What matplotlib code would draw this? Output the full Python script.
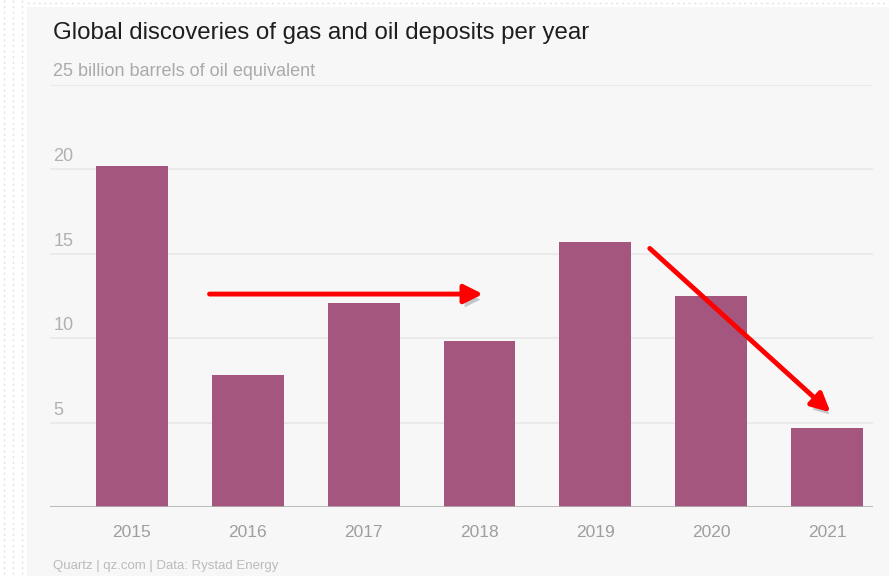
import matplotlib
matplotlib.use("Agg")
import matplotlib.pyplot as plt
import matplotlib.patheffects as pe
from matplotlib.patches import Rectangle

plt.rcParams['font.family'] = ['Liberation Sans', 'DejaVu Sans']

# data
years = ['2015', '2016', '2017', '2018', '2019', '2020', '2021']
discoveries = [20.2, 7.8, 12.1, 9.8, 15.7, 12.5, 4.7]
y_ticks = [5, 10, 15, 20]

# red arrows drawn on top (data coords: start, end)
arrow_flat = ((0.67, 12.6), (3.03, 12.6))
arrow_down = ((4.47, 15.3), (6.03, 5.6))

bar_color = '#a5567f'
grid_color = '#e8e8e8'

fig = plt.figure(figsize=(8.89, 5.76), dpi=100)
fig.patch.set_facecolor('white')

# light grey panel behind everything, with faint dotted page edge
bg = fig.add_axes([0, 0, 1, 1], zorder=-1)
bg.set_axis_off()
bg.set_xlim(0, 889)
bg.set_ylim(576, 0)
bg.add_patch(Rectangle((27, 7), 862, 569, facecolor='#f7f7f7', edgecolor='none'))
for xx in (4, 13, 22):
    bg.plot([xx, xx], [0, 576], color='#e2e2e2', lw=1, ls=(0, (1.5, 2.5)))
bg.plot([27, 889], [2.5, 2.5], color='#e2e2e2', lw=1, ls=(0, (1.5, 2.5)))

ax = fig.add_axes([50 / 889, 69 / 576, 823 / 889, 422.5 / 576])
ax.set_facecolor('none')

x = range(len(years))
ax.bar(x, discoveries, width=0.62, color=bar_color, zorder=2)

ax.set_xlim(-0.707, 6.397)
ax.set_ylim(0, 25)

# gridlines
for v in y_ticks + [25]:
    ax.axhline(v, color=grid_color, lw=1.2, zorder=1)
ax.axhline(0, color='#b0b0b0', lw=1.2, zorder=3)

# y labels sit just above their gridlines on the left
for v in y_ticks:
    ax.text(0.004, v + 0.22, str(v), transform=ax.get_yaxis_transform(),
            ha='left', va='bottom', fontsize=13, color='#b0b0b0')

ax.set_yticks([])
ax.set_xticks(list(x))
ax.set_xticklabels(years, fontsize=12.5, color='#9e9e9e')
ax.tick_params(axis='x', length=0, pad=13)
for s in ax.spines.values():
    s.set_visible(False)

# titles
fig.text(53 / 889, 1 - 33 / 576, 'Global discoveries of gas and oil deposits per year',
         fontsize=17.3, color='#1e1e1e', va='center', ha='left')
fig.text(53 / 889, 1 - 72 / 576, '25 billion barrels of oil equivalent',
         fontsize=13, color='#aaaaaa', va='center', ha='left')
fig.text(53 / 889, 1 - 566 / 576, 'Quartz | qz.com | Data: Rystad Energy',
         fontsize=9.5, color='#bbbbbb', va='center', ha='left')

# arrows
shadow = [pe.SimplePatchShadow(offset=(2, -4), shadow_rgbFace='#4a5a6a', alpha=0.3),
          pe.Normal()]
for start, end in (arrow_flat, arrow_down):
    ann = ax.annotate('', xy=end, xytext=start,
                      arrowprops=dict(arrowstyle='-|>', color='#ff0000', lw=3.5,
                                      mutation_scale=28, shrinkA=0, shrinkB=0),
                      zorder=5)
    ann.arrow_patch.set_path_effects(shadow)

fig.savefig('out.png', dpi=100, facecolor=fig.get_facecolor())
